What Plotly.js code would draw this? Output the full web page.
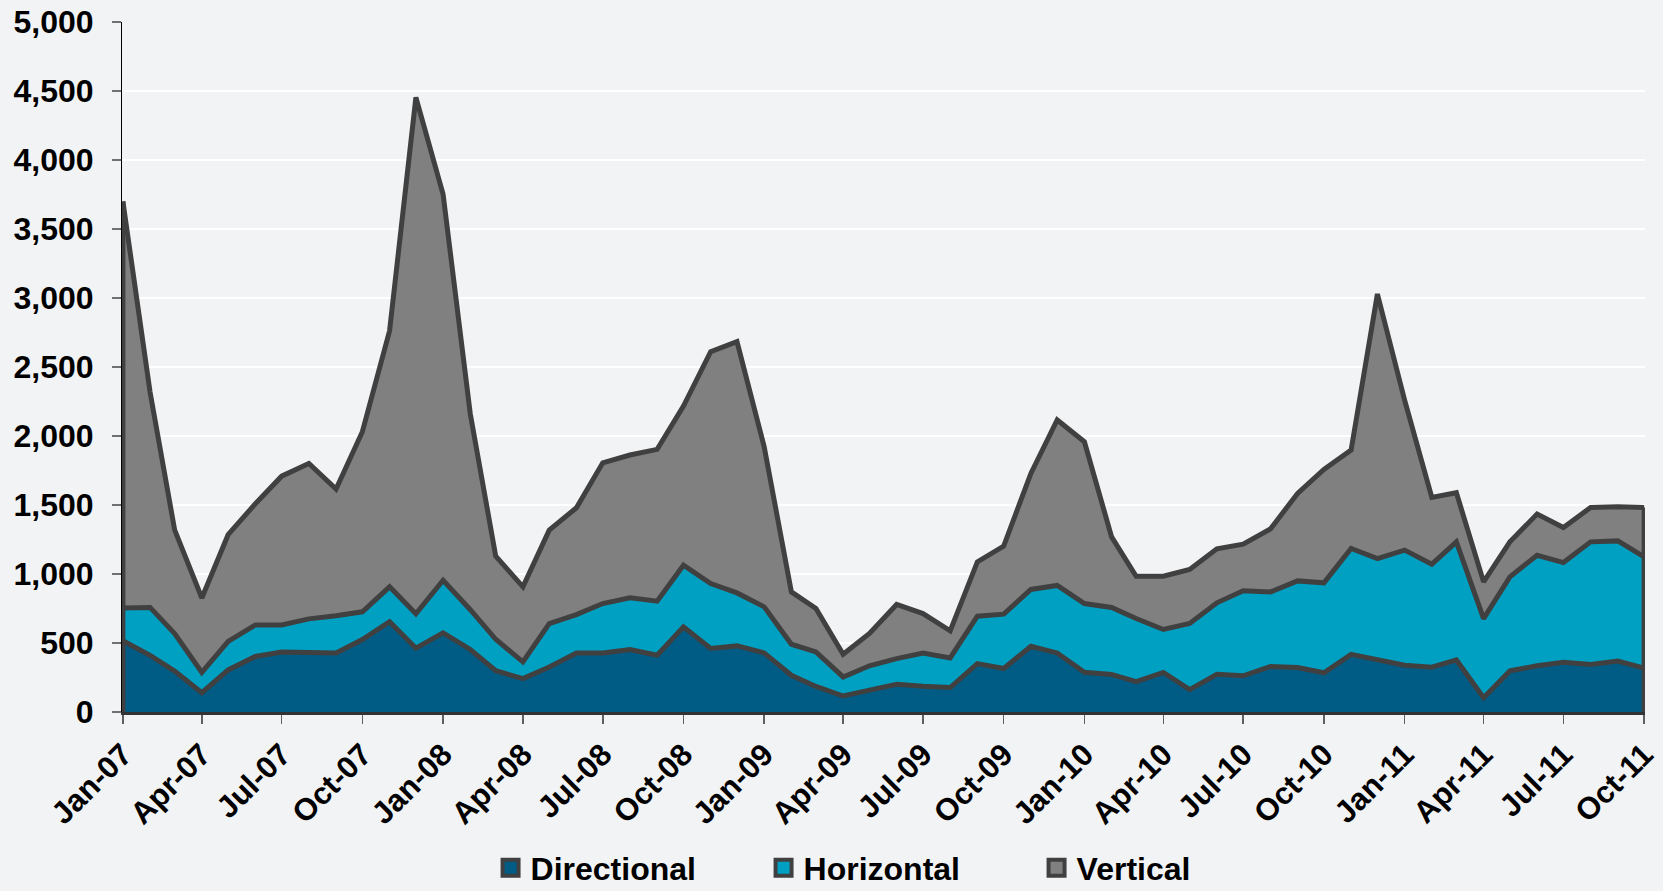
<!DOCTYPE html>
<html>
<head>
<meta charset="utf-8">
<script src="https://cdn.plot.ly/plotly-3.0.1.min.js"></script>
<style>
  html, body { margin: 0; padding: 0; background: #f2f3f5; }
  #chart { width: 1663px; height: 891px; }
</style>
</head>
<body>
<div id="chart"></div>
<script>
const months = [
  '2007-01','2007-02','2007-03','2007-04','2007-05','2007-06','2007-07','2007-08','2007-09','2007-10','2007-11','2007-12',
  '2008-01','2008-02','2008-03','2008-04','2008-05','2008-06','2008-07','2008-08','2008-09','2008-10','2008-11','2008-12',
  '2009-01','2009-02','2009-03','2009-04','2009-05','2009-06','2009-07','2009-08','2009-09','2009-10','2009-11','2009-12',
  '2010-01','2010-02','2010-03','2010-04','2010-05','2010-06','2010-07','2010-08','2010-09','2010-10','2010-11','2010-12',
  '2011-01','2011-02','2011-03','2011-04','2011-05','2011-06','2011-07','2011-08','2011-09','2011-10'
];

const directional = [
  516, 410, 296, 140, 305, 402, 434, 427, 427, 525, 654, 462,
  574, 453, 299, 242, 326, 428, 428, 452, 411, 617, 460, 479,
  428, 266, 185, 116, 162, 201, 186, 177, 351, 315, 476, 428,
  288, 272, 220, 287, 162, 273, 262, 330, 322, 284, 418, 375,
  339, 325, 377, 104, 298, 335, 360, 345, 369, 318
];

const horizontal = [
  238, 348, 273, 147, 206, 229, 197, 248, 271, 201, 253, 250,
  381, 288, 228, 121, 315, 278, 358, 375, 392, 447, 471, 384,
  334, 225, 250, 138, 173, 186, 242, 215, 343, 394, 412, 489,
  498, 485, 457, 311, 479, 518, 616, 540, 628, 652, 767, 737,
  834, 746, 856, 573, 681, 801, 723, 888, 871, 806
];

const vertical = [
  2946, 1560, 751, 539, 774, 878, 1078, 1126, 917, 1305, 1855, 3742,
  2797, 1419, 602, 544, 677, 774, 1020, 1035, 1100, 1153, 1680, 1821,
  1160, 379, 315, 164, 234, 392, 285, 196, 394, 493, 841, 1199,
  1172, 512, 307, 386, 392, 391, 338, 456, 634, 822, 713, 1917,
  1087, 484, 356, 266, 254, 298, 254, 249, 247, 358
];

const seriesNames = ['Directional', 'Horizontal', 'Vertical'];
const seriesColors = ['#005b85', '#00a0c3', '#808080'];
const outline = '#404040';
const fontFam = 'Liberation Sans, Arial, sans-serif';

const dates = months.map(m => m + '-01');
const values = [directional, horizontal, vertical];

const traces = [];
values.forEach((vals, i) => {
  traces.push({
    x: dates, y: vals, type: 'scatter', mode: 'lines',
    stackgroup: 'one', name: seriesNames[i],
    fillcolor: seriesColors[i],
    line: { color: outline, width: 5 },
    showlegend: false,
    hovertemplate: '%{x|%b-%y}: %{y}<extra>' + seriesNames[i] + '</extra>'
  });
});

// closing edges of the stacked area (left and right)
const last = dates.length - 1;
const totalFirst = directional[0] + horizontal[0] + vertical[0];
const totalLast = directional[last] + horizontal[last] + vertical[last];
traces.push({ x: [dates[0], dates[0]], y: [0, totalFirst], type: 'scatter', mode: 'lines',
  line: { color: outline, width: 5 }, showlegend: false, hoverinfo: 'skip' });
traces.push({ x: [dates[last], dates[last]], y: [0, totalLast], type: 'scatter', mode: 'lines',
  line: { color: outline, width: 5 }, showlegend: false, hoverinfo: 'skip' });

// legend entries (square swatches)
seriesNames.forEach((n, i) => {
  traces.push({
    x: [null], y: [null], type: 'scatter', mode: 'markers', name: n,
    marker: { symbol: 'square', size: 16, color: seriesColors[i], line: { color: outline, width: 4 } },
    showlegend: true, hoverinfo: 'skip'
  });
});

const layout = {
  width: 1663, height: 891,
  paper_bgcolor: '#f2f3f5', plot_bgcolor: '#f2f3f5',
  margin: { l: 122, r: 18, t: 22, b: 179, autoexpand: false },
  font: { family: fontFam, color: '#000000' },
  showlegend: true,
  legend: {
    orientation: 'h', traceorder: 'normal',
    x: 0.242, xanchor: 'left',
    yref: 'container', y: 0.026, yanchor: 'middle',
    font: { size: 32, family: fontFam, weight: 'bold' },
    entrywidth: 228, entrywidthmode: 'pixels',
    bgcolor: 'rgba(0,0,0,0)', itemclick: false
  },
  xaxis: {
    type: 'date', automargin: false,
    range: ['2006-12-31', '2011-10-02'],
    tick0: '2007-01-01', dtick: 'M3', tickformat: '%b-%y',
    tickangle: -45,
    tickfont: { size: 31, family: fontFam, weight: 'bold', color: '#000' },
    ticks: 'outside', ticklen: 9, tickcolor: '#606060', tickwidth: 1.5,
    showgrid: false, zeroline: false,
    showline: true, linecolor: '#333333', linewidth: 3,
    fixedrange: true
  },
  yaxis: {
    automargin: false,
    range: [0, 5000], dtick: 500, tickformat: ',',
    tickfont: { size: 32, family: fontFam, weight: 'bold', color: '#000' },
    ticks: 'outside', ticklen: 9, tickcolor: '#707070', tickwidth: 1.5,
    ticklabelstandoff: 12,
    showgrid: true, gridcolor: '#ffffff', gridwidth: 2,
    zeroline: false,
    showline: true, linecolor: '#000000', linewidth: 1,
    fixedrange: true
  }
};

Plotly.newPlot('chart', traces, layout, { displayModeBar: false, staticPlot: true });
</script>
</body>
</html>
